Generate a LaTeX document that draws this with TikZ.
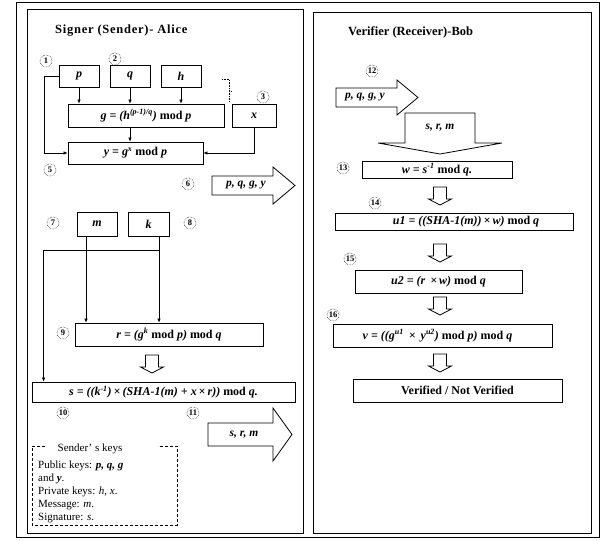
\documentclass[tikz,border=0pt]{standalone}
\usepackage{fontspec}
\setmainfont{Liberation Serif}
\usetikzlibrary{arrows.meta}
\newcommand{\V}[1]{\textbf{\textit{#1}}}
\newcommand{\modop}{\textup{mod}}
\tikzset{
  frame/.style={line width=1pt},
  box/.style={draw, line width=0.8pt, inner sep=1pt, font=\fontsize{12}{14}\selectfont\bfseries\itshape},
  title/.style={inner sep=0pt, font=\fontsize{12.5}{14}\selectfont\bfseries},
  num/.style={circle, draw, densely dotted, line width=0.5pt, inner sep=0.3pt, minimum size=12pt, font=\fontsize{8.5}{9}\selectfont\bfseries},
  flow/.style={-{Latex[length=4pt,width=3.5pt]}, line width=0.6pt},
  blk/.style={line width=0.8pt},
  blktext/.style={inner sep=0pt, font=\fontsize{11.5}{13}\selectfont\bfseries\itshape},
  keytext/.style={inner sep=0pt, font=\fontsize{11}{12.8}\selectfont},
  hollow/.pic={\draw[line width=0.8pt] (-6.5,0) -- (6.5,0) -- (6.5,12) -- (11.5,12) -- (0,18) -- (-11.5,12) -- (-6.5,12) -- cycle;}
}
\begin{document}
\begin{tikzpicture}[x=1pt,y=-1pt]
  \useasboundingbox (0,0) rectangle (601,540);
  \draw[frame] (16,3) rectangle (599,537);
  \draw[frame] (27,10) rectangle (303,533);
  \draw[frame] (313,13) rectangle (591,533);

  % sender side
  \node[title, anchor=west] (alice) at (55,31) {\addfontfeature{LetterSpace=6}Signer (Sender)- Alice};
  \node[num] (n1) at (46,61) {1};
  \node[num] (n2) at (115,59) {2};
  \node[num] (n3) at (263,97) {3};
  \node[num] (n5) at (50,170) {5};
  \node[num] (n6) at (188,184) {6};
  \node[num] (n7) at (53,223) {7};
  \node[num] (n8) at (190,223) {8};
  \node[num] (n9) at (63,333) {9};
  \node[num] (n10) at (63,413) {10};
  \node[num] (n11) at (193,413) {11};

  \node[box, minimum width=40, minimum height=22] (p) at (79,76) {p};
  \node[box, minimum width=40, minimum height=22] (q) at (130,76) {q};
  \node[box, minimum width=40, minimum height=22] (h) at (181,76) {h};
  \node[box, minimum width=156, minimum height=23] (g) at (146,115.5) {g = (h\textsuperscript{(p-1)/q}) \modop{} p};
  \node[box, minimum width=44, minimum height=23] (x) at (254,115.5) {x};
  \node[box, minimum width=135, minimum height=22] (y) at (135.5,153) {y = g\textsuperscript{x} \modop{} p};
  \draw[flow] (p.south) -- (p.south |- g.north);
  \draw[flow] (q.south) -- (q.south |- g.north);
  \draw[flow] (h.south) -- (h.south |- g.north);
  \draw[flow] (g.south -| q.south) -- (y.north -| q.south);
  \draw[flow] (p.west) -- ++(-14,0) |- (y.west);
  \draw[flow] (x.south) |- (y.east);
  \draw[densely dotted, line width=0.6pt] (222,79) -- (229,79) -- (229,101) (229,91) -- (232,91);

  \draw[blk] (212,176) -- (273,176) -- (273,167) -- (295,185.5) -- (273,204) -- (273,195) -- (212,195) -- cycle;
  \node[blktext] (pub1) at (246,185.5) {p, q, g, y};

  \node[box, minimum width=40, minimum height=24] (m) at (97,224) {m};
  \node[box, minimum width=41, minimum height=24] (k) at (148.5,224) {k};
  \node[box, minimum width=188, minimum height=23] (r) at (169,334.5) {r = (g\textsuperscript{k} \modop{} p) \modop{} q};
  \node[box, minimum width=263, minimum height=20] (s) at (163.5,392) {s = ((k\textsuperscript{-1})\,×\,(SHA-1(m) + x\,×\,r)) \modop{} q.};
  \coordinate (ma) at ([xshift=-11pt]m.south);
  \coordinate (kb) at ([xshift=10.5pt]k.south);
  \draw[flow] (ma) -- (ma |- r.north);
  \draw[flow] (kb) -- (kb |- r.north);
  \draw[flow] ([yshift=-14pt]kb) -| ([xshift=12pt]s.north west);
  \pic at (152,355) {hollow};

  \draw[blk] (208,423) -- (273,423) -- (273,408) -- (292,434.5) -- (273,461) -- (273,446) -- (208,446) -- cycle;
  \node[blktext] (sig1) at (244,434.5) {s, r, m};

  \draw[dash pattern=on 3pt off 2pt, line width=0.6pt] (45,446) -- (32,446) -- (32,525) -- (177,525) -- (177,446) -- (158,446);
  \node[keytext] (keyhead) at (90,449) {Sender' s keys};
  \node[keytext, anchor=north west, align=left] (keys) at (38,461)
    {Public keys: \V{p, q, g}\\and \V{y}.\\Private keys: \textit{h, x}.\\Message: \textit{m}.\\Signature: \textit{s}.};

  % receiver side
  \node[title, anchor=west] (bob) at (348,32) {Verifier (Receiver)-Bob};
  \node[num] (n12) at (372,71) {12};
  \node[num] (n13) at (343,168) {13};
  \node[num] (n14) at (375,203) {14};
  \node[num] (n15) at (350,259) {15};
  \node[num] (n16) at (333,315) {16};

  \draw[blk] (336,88) -- (397,88) -- (397,80) -- (418,97.5) -- (397,115) -- (397,107) -- (336,107) -- cycle;
  \node[blktext] (pub2) at (365,97.5) {p, q, g, y};
  \draw[blk] (405,113) -- (475,113) -- (475,143) -- (502,143) -- (440,154) -- (378,143) -- (405,143) -- cycle;
  \node[blktext] (sig2) at (440,128) {s, r, m};

  \node[box, minimum width=150, minimum height=17] (w) at (437,169.5) {w = s\textsuperscript{-1} \modop{} q.};
  \node[box, minimum width=238, minimum height=17] (u1) at (454,221.5) {\hspace*{24pt}u1 = ((SHA-1(m))\,×\,w) \modop{} q};
  \node[box, minimum width=167, minimum height=23] (u2) at (438.5,281.5) {u2 = (r \,×\,w) \modop{} q};
  \node[box, minimum width=219, minimum height=23] (v) at (442.5,335.5) {v = ((g\textsuperscript{u1}\, × \,y\textsuperscript{u2}) \modop{} p) \modop{} q\hspace*{10pt}};
  \node[box, minimum width=209, minimum height=23, font=\fontsize{12}{14}\selectfont\bfseries] (res) at (457.5,390.5) {Verified / Not Verified};
  \pic at (440,187) {hollow};
  \pic at (440,244) {hollow};
  \pic at (440,297) {hollow};
  \pic at (440,354) {hollow};
\end{tikzpicture}
\end{document}
